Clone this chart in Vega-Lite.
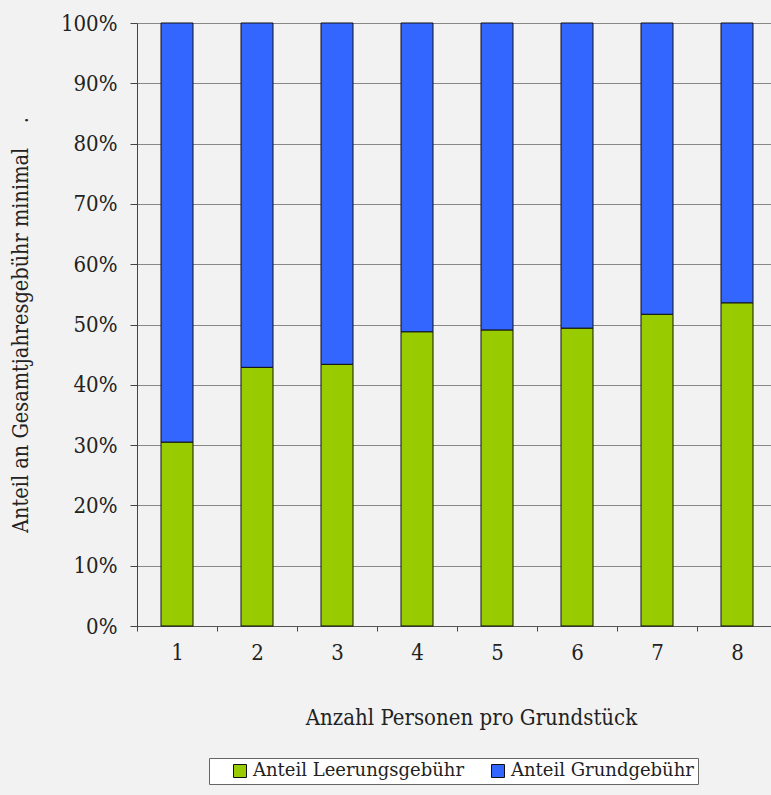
{
  "$schema": "https://vega.github.io/schema/vega-lite/v6.json",
  "autosize": {"type": "none"},
  "padding": {"left": 137, "top": 23, "right": 0, "bottom": 169},
  "width": 634,
  "height": 603,
  "background": "#f2f2f2",
  "data": {
    "values": [
      {"Personen": "1", "Anteil": "Anteil Leerungsgebühr", "Reihe": 1, "Wert": 0.305},
      {"Personen": "1", "Anteil": "Anteil Grundgebühr", "Reihe": 2, "Wert": 0.695},
      {"Personen": "2", "Anteil": "Anteil Leerungsgebühr", "Reihe": 1, "Wert": 0.429},
      {"Personen": "2", "Anteil": "Anteil Grundgebühr", "Reihe": 2, "Wert": 0.571},
      {"Personen": "3", "Anteil": "Anteil Leerungsgebühr", "Reihe": 1, "Wert": 0.434},
      {"Personen": "3", "Anteil": "Anteil Grundgebühr", "Reihe": 2, "Wert": 0.566},
      {"Personen": "4", "Anteil": "Anteil Leerungsgebühr", "Reihe": 1, "Wert": 0.488},
      {"Personen": "4", "Anteil": "Anteil Grundgebühr", "Reihe": 2, "Wert": 0.512},
      {"Personen": "5", "Anteil": "Anteil Leerungsgebühr", "Reihe": 1, "Wert": 0.491},
      {"Personen": "5", "Anteil": "Anteil Grundgebühr", "Reihe": 2, "Wert": 0.509},
      {"Personen": "6", "Anteil": "Anteil Leerungsgebühr", "Reihe": 1, "Wert": 0.494},
      {"Personen": "6", "Anteil": "Anteil Grundgebühr", "Reihe": 2, "Wert": 0.506},
      {"Personen": "7", "Anteil": "Anteil Leerungsgebühr", "Reihe": 1, "Wert": 0.517},
      {"Personen": "7", "Anteil": "Anteil Grundgebühr", "Reihe": 2, "Wert": 0.483},
      {"Personen": "8", "Anteil": "Anteil Leerungsgebühr", "Reihe": 1, "Wert": 0.536},
      {"Personen": "8", "Anteil": "Anteil Grundgebühr", "Reihe": 2, "Wert": 0.464}
    ]
  },
  "mark": {"type": "bar", "stroke": "#111111", "strokeWidth": 1},
  "encoding": {
    "x": {
      "field": "Personen",
      "type": "ordinal",
      "title": "Anzahl Personen pro Grundstück",
      "scale": {"paddingInner": 0.6, "paddingOuter": 0.3, "range": [0, 640]},
      "axis": {
        "labelAngle": 0,
        "tickOffset": -40,
        "labelOffset": 40,
        "tickSize": 5,
        "tickColor": "#444444",
        "domainColor": "#555555",
        "labelPadding": 11,
        "titlePadding": 44,
        "titleFontSize": 22,
        "titleX": 334,
        "titleAlign": "center",
        "grid": false
      }
    },
    "y": {
      "field": "Wert",
      "type": "quantitative",
      "stack": "zero",
      "title": "Anteil an Gesamtjahresgebühr minimal\u00a0\u00a0\u00a0\u00a0.",
      "scale": {"domain": [0, 1], "nice": false},
      "axis": {
        "format": ".0%",
        "values": [0, 0.1, 0.2, 0.3, 0.4, 0.5, 0.6, 0.7, 0.8, 0.9, 1],
        "tickSize": 7,
        "tickColor": "#444444",
        "domainColor": "#444444",
        "gridColor": "#888888",
        "gridOpacity": 1,
        "labelPadding": 13,
        "titlePadding": 28,
        "titleFontSize": 21.5
      }
    },
    "color": {
      "field": "Anteil",
      "type": "nominal",
      "scale": {
        "domain": ["Anteil Leerungsgebühr", "Anteil Grundgebühr"],
        "range": ["#99cc00", "#3366ff"]
      },
      "legend": {
        "title": "\u00a0\u00a0\u00a0",
        "titleOrient": "left",
        "titleFontSize": 18,
        "titleFont": "DejaVu Serif",
        "titlePadding": 18,
        "orient": "none",
        "direction": "horizontal",
        "legendX": 72,
        "legendY": 735,
        "symbolType": "square",
        "symbolSize": 169,
        "symbolStrokeColor": "#111111",
        "symbolStrokeWidth": 1,
        "labelFontSize": 18,
        "labelFont": "DejaVu Serif",
        "labelColor": "#222222",
        "labelLimit": 0,
        "columnPadding": 24,
        "labelOffset": 4,
        "padding": 4,
        "strokeColor": "#666666",
        "fillColor": "#ffffff"
      }
    },
    "order": {"field": "Reihe", "type": "quantitative"}
  },
  "config": {
    "view": {"stroke": null},
    "font": "DejaVu Serif",
    "axis": {
      "labelFont": "DejaVu Serif Condensed",
      "titleFont": "DejaVu Serif Condensed",
      "labelFontSize": 22,
      "titleFontWeight": "normal",
      "labelColor": "#222222",
      "titleColor": "#222222"
    }
  }
}
